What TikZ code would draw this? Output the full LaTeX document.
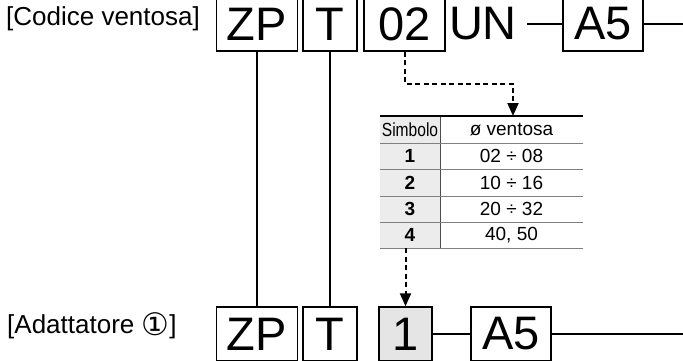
\documentclass[tikz,border=0pt]{standalone}
\usepackage{fontspec}
\setmainfont{Liberation Sans}
\newfontfamily\circfont{DejaVu Sans}
\usepackage{graphicx}
\usepackage{tikz}
\usetikzlibrary{arrows.meta}
\tikzset{
  codebox/.style={draw, line width=1.4pt, inner sep=0pt, minimum height=54pt,
    font=\fontsize{47}{47}\selectfont},
  codetext/.style={inner ysep=0pt, font=\fontsize{47}{47}\selectfont},
  labeltext/.style={anchor=west, inner sep=0pt, font=\fontsize{26}{26}\selectfont},
  cell/.style={inner sep=0pt, font=\fontsize{19}{19}\selectfont},
  dashline/.style={line width=2pt, dash pattern=on 5pt off 3.5pt,
    -{Triangle[length=13pt,width=11pt]}},
  plain/.style={line width=1.5pt}
}
\begin{document}
\begin{tikzpicture}[x=1pt,y=-1pt]
\useasboundingbox (0,0) rectangle (683,361);
% top row: codice ventosa
\node[labeltext] (lblA) at (6,19) {[Codice ventosa]};
\node[codebox, minimum width=81pt] (zpA) at (257,24) {ZP};
\node[codebox, minimum width=54pt] (tA) at (330,24) {T};
\node[codebox, minimum width=81pt] (numA) at (404.5,24) {02};
\node[codetext, inner xsep=10pt] (unA) at (483,24) {UN};
\node[codebox, minimum width=80pt] (a5A) at (603,24) {A5};
\coordinate (endA) at (683,24);
\draw[plain] (unA.east) -- (a5A.west);
\draw[plain] (a5A.east) -- (endA);
% table
\fill[gray!15] (380,116) rectangle (440,248);
\draw[gray!60!black, line width=0.8pt] (440,116) -- (440,248);
\draw[gray, line width=0.8pt] (380,143) -- (583,143);
\draw[gray, line width=0.8pt] (380,169.5) -- (583,169.5);
\draw[gray, line width=0.8pt] (380,196) -- (583,196);
\draw[gray, line width=0.8pt] (380,222) -- (583,222);
\draw[gray, line width=0.8pt] (380,248) -- (583,248);
\draw[line width=1.5pt] (380,116) -- (583,116);
\node[cell] (hSym) at (410,129.5) {\scalebox{0.82}[1]{Simbolo}};
\node[cell] (hDia) at (511.5,129.5) {ø ventosa};
\node[cell, font=\fontsize{19}{19}\selectfont\bfseries] (s1) at (410,156) {1};
\node[cell, font=\fontsize{19}{19}\selectfont\bfseries] (s2) at (410,182.5) {2};
\node[cell, font=\fontsize{19}{19}\selectfont\bfseries] (s3) at (410,209) {3};
\node[cell, font=\fontsize{19}{19}\selectfont\bfseries] (s4) at (410,235) {4};
\node[cell] (d1) at (511.5,156) {02 ÷ 08};
\node[cell] (d2) at (511.5,182.5) {10 ÷ 16};
\node[cell] (d3) at (511.5,209) {20 ÷ 32};
\node[cell] (d4) at (511.5,235) {40, 50};
\coordinate (tabTop) at (513,116);
\coordinate (tabBot) at (405.5,248);
% bottom row: adattatore
\node[labeltext] (lblB) at (7,326) {[Adattatore {\circfont\fontsize{31}{31}\selectfont\raisebox{-2pt}{①}}]};
\node[codebox, minimum width=81pt] (zpB) at (257,334) {ZP};
\node[codebox, minimum width=54pt] (tB) at (330,334) {T};
\node[codebox, minimum width=53pt, fill=gray!20] (numB) at (405.5,334) {1};
\node[codebox, minimum width=80pt] (a5B) at (511,334) {A5};
\coordinate (endB) at (683,334);
\draw[plain] (numB.east) -- (a5B.west);
\draw[plain] (a5B.east) -- (endB);
% links
\draw[plain] (zpA.south) -- (zpB.north);
\draw[plain] (tA.south) -- (tB.north);
\draw[dashline] (numA.south) -- ++(0,32) -| (tabTop);
\draw[dashline] (tabBot) -- (numB.north);
\end{tikzpicture}
\end{document}
